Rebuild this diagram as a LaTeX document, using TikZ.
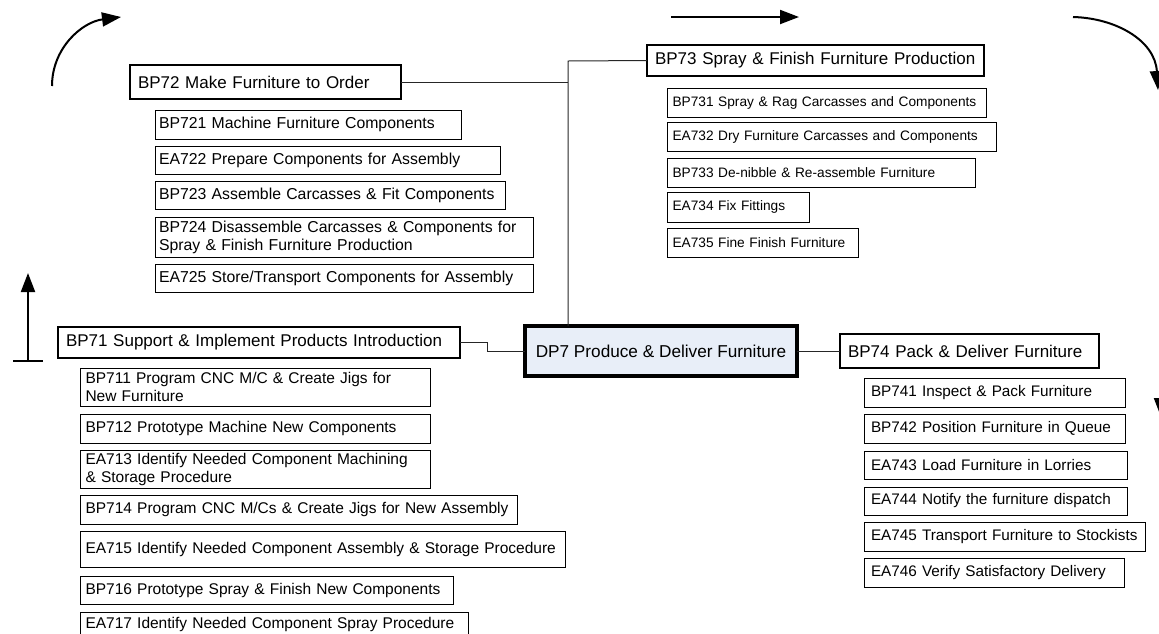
\documentclass[tikz,border=0pt]{standalone}
\usepackage{fontspec}
\setmainfont{Liberation Sans}
\usetikzlibrary{arrows.meta}

\begin{document}
\begin{tikzpicture}[x=1pt,y=-1pt,
  every node/.style={outer sep=0pt},
  box/.style={draw=black, anchor=north west, align=left, inner ysep=0pt},
  head/.style={box, line width=1.8pt, inner xsep=8pt, font=\fontsize{17}{20}\selectfont},
  centre/.style={draw=black, anchor=north west, align=center, inner sep=0pt,
    line width=3.2pt, fill={rgb,255:red,232;green,238;blue,248},
    font=\fontsize{17.2}{20}\selectfont},
  subA/.style={box, line width=1pt, inner xsep=4pt, font=\fontsize{15.8}{18}\selectfont},
  subB/.style={box, line width=1pt, inner xsep=5.5pt, font=\fontsize{13.7}{16}\selectfont},
  subC/.style={box, line width=1pt, inner xsep=7pt, font=\fontsize{15.3}{18}\selectfont},
  subD/.style={box, line width=1pt, inner xsep=5.5pt, font=\fontsize{15.5}{18}\selectfont},
  link/.style={draw=black!85, line width=1pt},
  flow/.style={line width=2pt, -{Triangle[length=19pt,width=14pt]}}
]
\useasboundingbox (0,0) rectangle (1159,633);
\clip (0,0) rectangle (1159,633);

% central process
\node[centre, minimum width=272pt, minimum height=50pt] (DP7) at (525,326) {DP7 Produce \& Deliver Furniture};

% main sub-processes
\node[head, text width=255pt, minimum height=34pt] (BP72) at (130,65) {\mbox{BP72 Make Furniture to Order}};
\node[head, text width=321pt, minimum height=31pt] (BP73) at (647,45) {\mbox{BP73 Spray \& Finish Furniture Production}};
\node[head, text width=243pt, minimum height=34pt] (BP74) at (840,334) {\mbox{BP74 Pack \& Deliver Furniture}};
\node[head, text width=386pt, minimum height=31pt] (BP71) at (58,327) {\mbox{BP71 Support \& Implement Products Introduction}};

% BP72 activities
\node[subA, text width=298pt, minimum height=29pt] (BP721) at (155,110) {\mbox{BP721 Machine Furniture Components}};
\node[subA, text width=337pt, minimum height=28pt] (EA722) at (155,146) {\mbox{EA722 Prepare Components for Assembly}};
\node[subA, text width=342pt, minimum height=28pt] (BP723) at (155,181) {\mbox{BP723 Assemble Carcasses \& Fit Components}};
\node[subA, text width=370pt, minimum height=40pt] (BP724) at (155,217) {\mbox{BP724 Disassemble Carcasses \& Components for}\\\mbox{Spray \& Finish Furniture Production}};
\node[subA, text width=370pt, minimum height=28pt] (EA725) at (155,264) {\mbox{EA725 Store/Transport Components for Assembly}};

% BP73 activities
\node[subB, text width=308pt, minimum height=29pt] (BP731) at (667,88) {\mbox{BP731 Spray \& Rag Carcasses and Components}};
\node[subB, text width=318pt, minimum height=29pt] (EA732) at (667,122) {\mbox{EA732 Dry Furniture Carcasses and Components}};
\node[subB, text width=297pt, minimum height=29pt] (BP733) at (667,158) {\mbox{BP733 De-nibble \& Re-assemble Furniture}};
\node[subB, text width=131pt, minimum height=30pt] (EA734) at (667,192) {\mbox{EA734 Fix Fittings}};
\node[subB, text width=180pt, minimum height=29pt] (EA735) at (667,228) {\mbox{EA735 Fine Finish Furniture}};

% BP74 activities
\node[subC, text width=247pt, minimum height=29pt] (BP741) at (864,378) {\mbox{BP741 Inspect \& Pack Furniture}};
\node[subC, text width=247pt, minimum height=29pt] (BP742) at (864,414) {\mbox{BP742 Position Furniture in Queue}};
\node[subC, text width=249pt, minimum height=28pt] (EA743) at (864,451) {\mbox{EA743 Load Furniture in Lorries}};
\node[subC, text width=249pt, minimum height=28pt] (EA744) at (864,487) {\mbox{EA744 Notify the furniture dispatch}};
\node[subC, text width=267pt, minimum height=29pt] (EA745) at (864,522) {\mbox{EA745 Transport Furniture to Stockists}};
\node[subC, text width=246pt, minimum height=29pt] (EA746) at (864,558) {\mbox{EA746 Verify Satisfactory Delivery}};

% BP71 activities
\node[subD, text width=339pt, minimum height=38pt] (BP711) at (80,368) {\mbox{BP711 Program CNC M/C \& Create Jigs for}\\\mbox{New Furniture}};
\node[subD, text width=339pt, minimum height=29pt] (BP712) at (80,414) {\mbox{BP712 Prototype Machine New Components}};
\node[subD, text width=339pt, minimum height=38pt] (EA713) at (80,450) {\mbox{EA713 Identify Needed Component Machining}\\\mbox{\& Storage Procedure}};
\node[subD, text width=426pt, minimum height=29pt] (BP714) at (80,495) {\mbox{BP714 Program CNC M/Cs \& Create Jigs for New Assembly}};
\node[subD, text width=474pt, minimum height=36pt] (EA715) at (80,531) {\mbox{EA715 Identify Needed Component Assembly \& Storage Procedure}};
\node[subD, text width=362pt, minimum height=28pt] (BP716) at (80,576) {\mbox{BP716 Prototype Spray \& Finish New Components}};
\node[subD, text width=377pt, minimum height=25pt] (EA717) at (80,612) {\mbox{EA717 Identify Needed Component Spray Procedure}};

% connectors to the central process
\coordinate (trunk) at (568,61);
\draw[link] (BP73.west) -- (trunk) -- (trunk |- DP7.north);
\draw[link] (BP72.east) -- (BP72.east -| trunk);
\draw[link] (BP71.east) -- ++(27,0) |- (DP7.west);
\draw[link] (DP7.east) -- (BP74.west);

% circulation arrows
\draw[flow] (52,86) .. controls (52,48) and (82,22) .. (121,17);
\draw[flow] (671,17) -- (799,17);
\draw[flow] (1073,17) .. controls (1115,18) and (1155,40) .. (1158,90);
\draw[line width=2pt] (13,361) -- (43,361);
\draw[flow] (28,361) -- (28,273);
\draw[flow] (1161,360) -- (1161,417);
\end{tikzpicture}
\end{document}
